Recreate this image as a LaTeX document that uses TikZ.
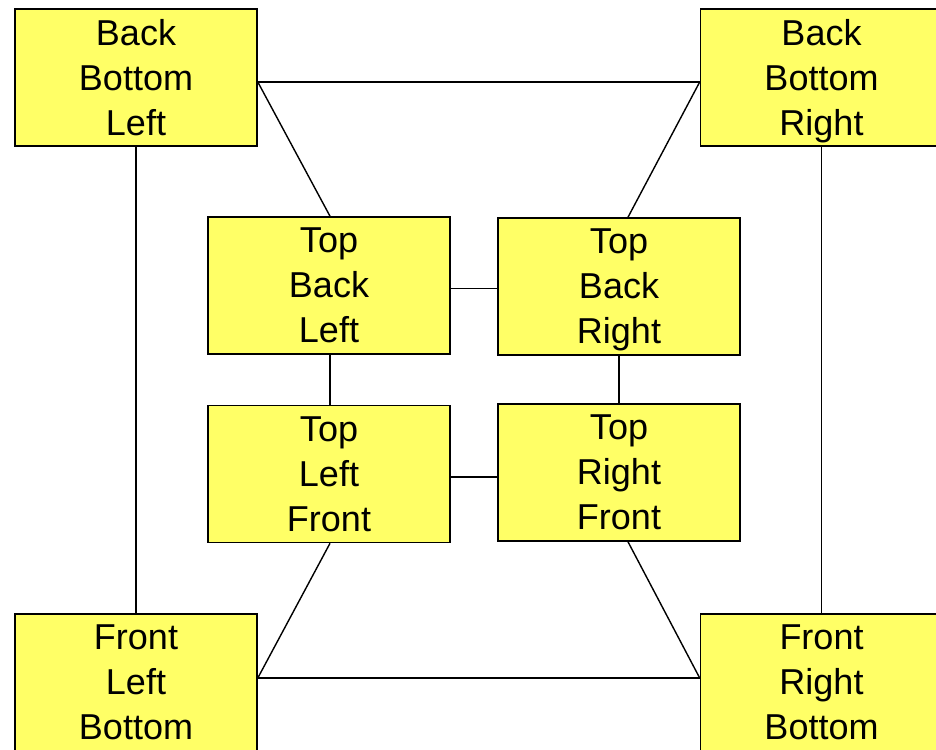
\documentclass[tikz,border=0pt]{standalone}
\usepackage{fontspec}
\setmainfont{Liberation Sans}
\definecolor{boxfill}{HTML}{FFFF66}
\begin{document}
\begin{tikzpicture}[x=1pt,y=-1pt,
  cube/.style={draw=black, line width=1.6pt, fill=boxfill, rectangle,
    minimum width=242pt, minimum height=137pt, inner sep=0pt, align=center,
    text depth=0pt, font=\fontsize{36}{45}\selectfont},
  edge/.style={draw=black, line width=1.4pt},
  thick edge/.style={draw=black, line width=2.4pt}]
\useasboundingbox (0,0) rectangle (936,749);
\clip (0,0) rectangle (936,749);
\node[cube] (BBL) at (136,77.5) {Back\\Bottom\\Left};
\node[cube] (BBR) at (821.5,77.5) {Back\\Bottom\\Right};
\node[cube] (TBL) at (329,285.5) {Top\\Back\\Left};
\node[cube] (TBR) at (619,286.5) {Top\\Back\\Right};
\node[cube] (TLF) at (329,474) {Top\\Left\\Front};
\node[cube] (TRF) at (619,472.5) {Top\\Right\\Front};
\node[cube] (FLB) at (136,682.5) {Front\\Left\\Bottom};
\node[cube] (FRB) at (821.5,682.5) {Front\\Right\\Bottom};
% connectors
\draw[edge] ([yshift=-4.5pt]BBL.east) -- ([yshift=-4.5pt]BBR.west);
\draw[edge] ([yshift=-4.5pt]BBL.east) -- ([xshift=1pt]TBL.north);
\draw[edge] ([yshift=-4.5pt]BBR.west) -- ([xshift=9pt]TBR.north);
\draw[thick edge] (BBL.south) -- (FLB.north);
\draw[edge] (BBR.south) -- (FRB.north);
\draw[edge] ([yshift=-3pt]TBL.east) -- ([yshift=-3pt]TBL.east -| TBR.west);
\draw[edge] ([xshift=1pt]TBL.south) -- ([xshift=1pt]TLF.north);
\draw[thick edge] (TBR.south) -- (TRF.north);
\draw[edge] ([yshift=-3pt]TLF.east) -- ([yshift=-3pt]TLF.east -| TRF.west);
\draw[edge] ([xshift=1pt]TLF.south) -- ([yshift=4.5pt]FLB.east);
\draw[edge] ([xshift=9pt]TRF.south) -- ([yshift=4.5pt]FRB.west);
\draw[thick edge] ([yshift=4.5pt]FLB.east) -- ([yshift=4.5pt]FRB.west);
\end{tikzpicture}
\end{document}
